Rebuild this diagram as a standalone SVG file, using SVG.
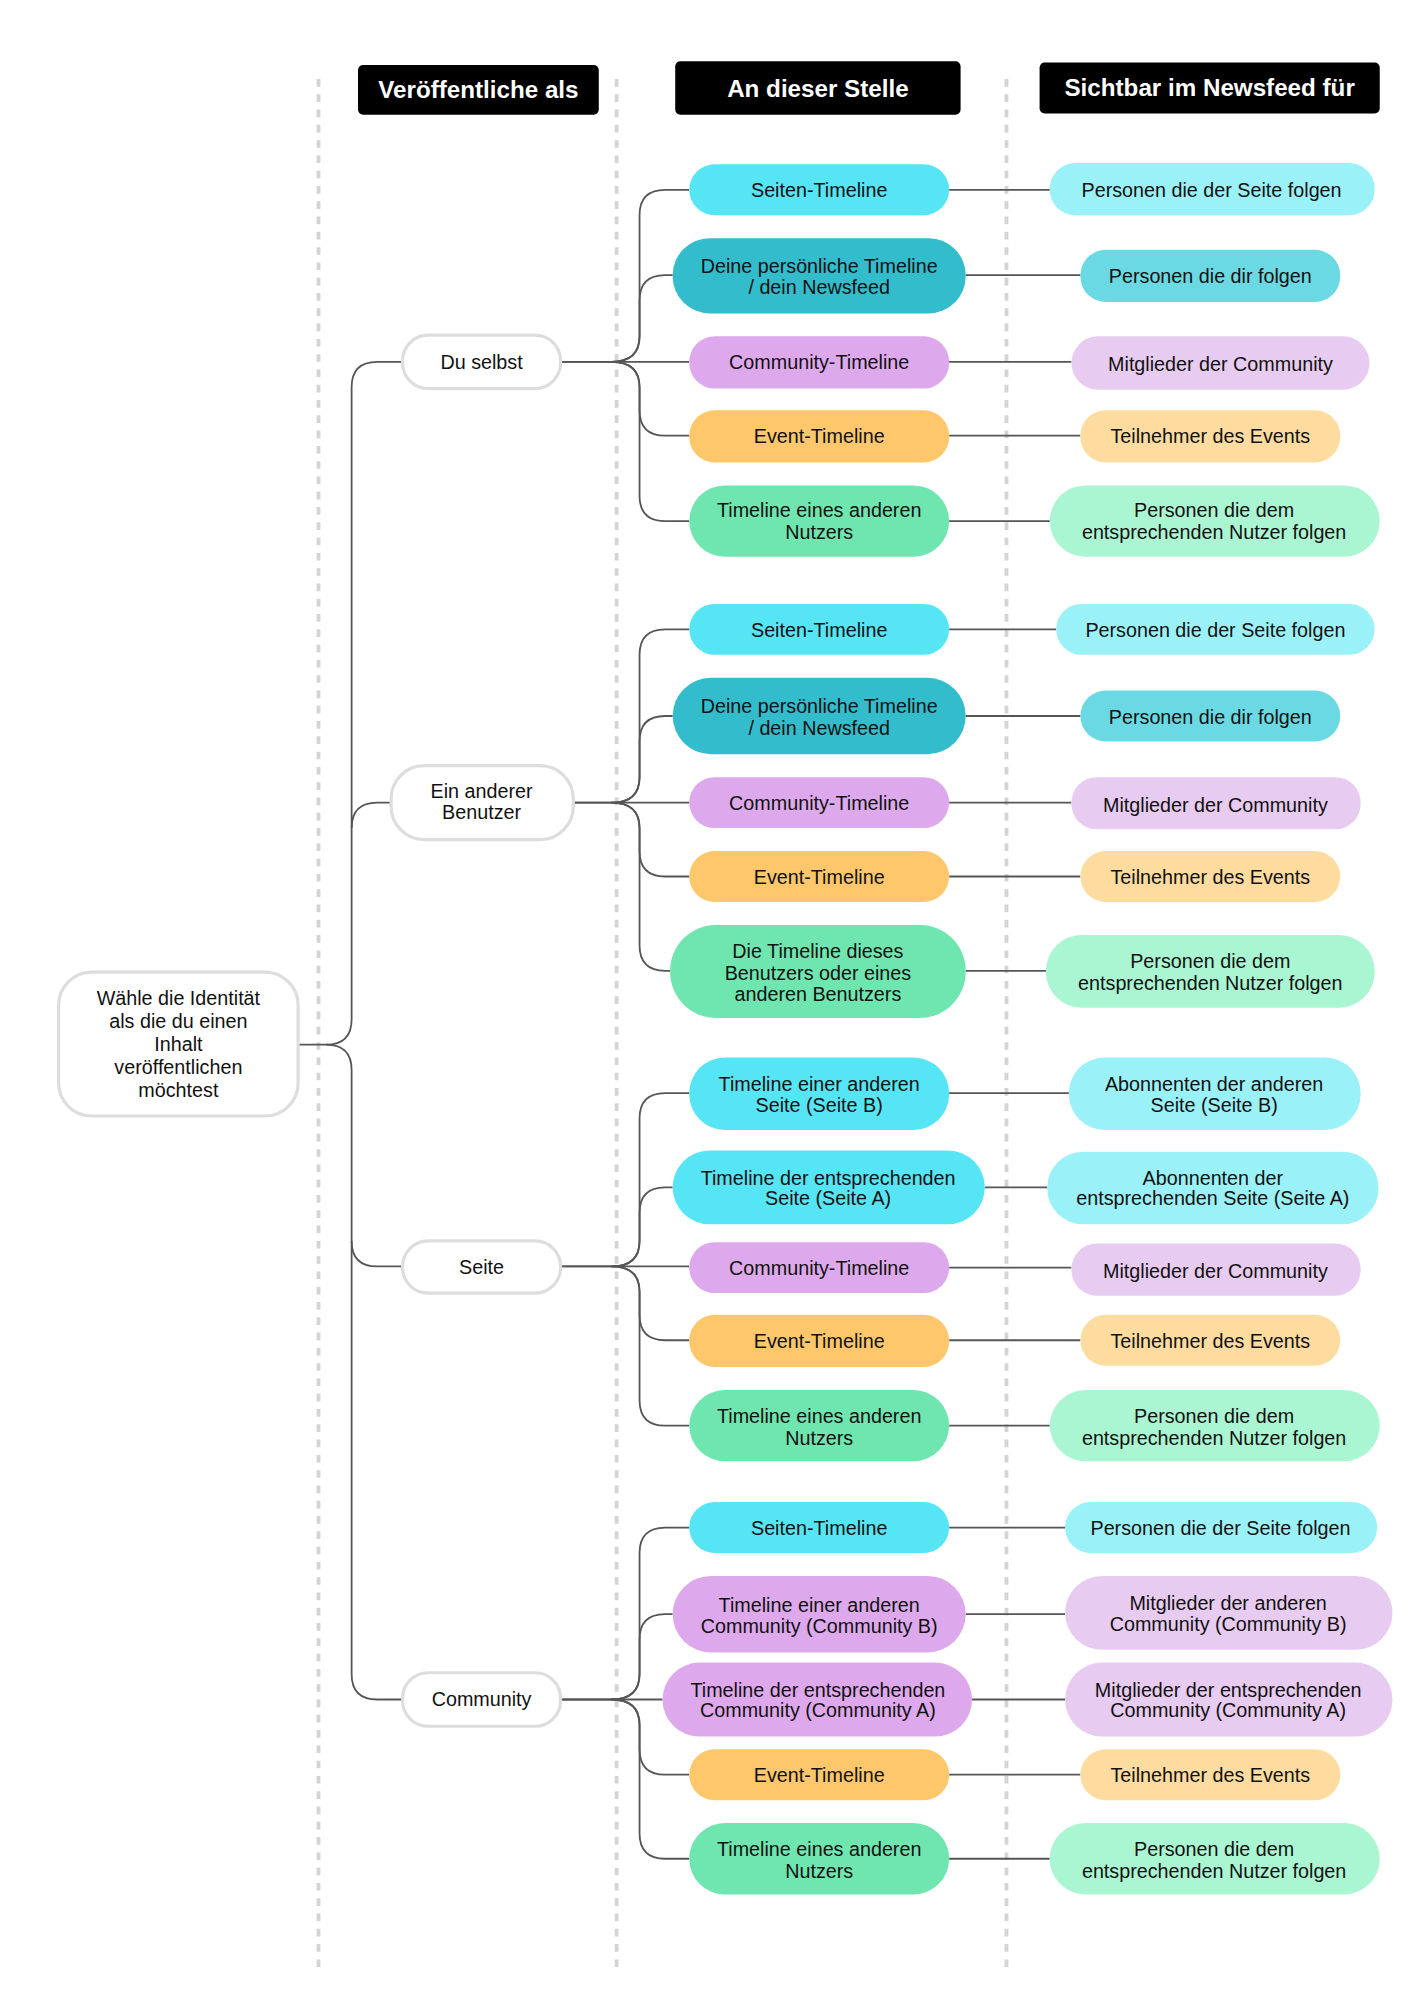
<svg xmlns="http://www.w3.org/2000/svg" width="1414" height="2000" viewBox="0 0 1414 2000">
<style>
text{font-family:"Liberation Sans",Arial,sans-serif;font-size:15.5px;fill:#111;text-anchor:middle}
.h{font-weight:bold;font-size:19px;fill:#fff}
.hd{fill:#000}
.w{fill:#fff;stroke:#ddd;stroke-width:2.5}
.c1{fill:#56e5f4}.c2{fill:#33bccc}.c3{fill:#dea9ec}.c4{fill:#fec76c}.c5{fill:#6fe6b0}
.l1{fill:#9af1f8}.l2{fill:#6ad9e3}.l3{fill:#e8cbf0}.l4{fill:#fedb9f}.l5{fill:#aaf5d2}
.dash{stroke:#d4d4d4;stroke-width:3;stroke-dasharray:6 6;fill:none}
#connectors path{fill:none;stroke:#555;stroke-width:1.4}
</style>
<rect width="1414" height="2000" fill="#fff"/>
<g transform="scale(1.274)">
<g id="guides">
<line class="dash" x1="250" y1="62" x2="250" y2="1545"/>
<line class="dash" x1="484" y1="62" x2="484" y2="1545"/>
<line class="dash" x1="790" y1="62" x2="790" y2="1545"/>
</g>
<g id="headers">
<rect class="hd" x="281" y="51" width="189" height="39" rx="4"/><text class="h" x="375.5" y="77">Veröffentliche als</text>
<rect class="hd" x="530" y="48" width="224" height="42" rx="4"/><text class="h" x="642" y="76">An dieser Stelle</text>
<rect class="hd" x="816" y="49" width="267" height="40" rx="4"/><text class="h" x="949.5" y="75">Sichtbar im Newsfeed für</text>
</g>
<g id="connectors">
<path d="M234 820 H256 Q276 820 276 800 V304 Q276 284 296 284 H316"/>
<path d="M256 820 Q276 820 276 840 V1314 Q276 1334 296 1334 H316"/>
<path d="M276 650 Q276 630 296 630 H307"/>
<path d="M276 974 Q276 994 296 994 H316"/>
<path d="M440 284 H480 Q502 284 502 264 V169 Q502 149 522 149 H541"/>
<path d="M480 284 Q502 284 502 264 V236 Q502 216 522 216 H528"/>
<path d="M440 284 H541"/>
<path d="M480 284 Q502 284 502 304 V322 Q502 342 522 342 H541"/>
<path d="M480 284 Q502 284 502 304 V389 Q502 409 522 409 H541"/>
<path d="M450 630 H480 Q502 630 502 610 V514 Q502 494 522 494 H541"/>
<path d="M480 630 Q502 630 502 610 V582 Q502 562 522 562 H528"/>
<path d="M450 630 H541"/>
<path d="M480 630 Q502 630 502 650 V668 Q502 688 522 688 H541"/>
<path d="M480 630 Q502 630 502 650 V742 Q502 762 522 762 H526"/>
<path d="M440 994 H480 Q502 994 502 974 V878 Q502 858 522 858 H541"/>
<path d="M480 994 Q502 994 502 974 V952 Q502 932 522 932 H528"/>
<path d="M440 994 H541"/>
<path d="M480 994 Q502 994 502 1014 V1032 Q502 1052 522 1052 H541"/>
<path d="M480 994 Q502 994 502 1014 V1099 Q502 1119 522 1119 H541"/>
<path d="M440 1334 H480 Q502 1334 502 1314 V1219 Q502 1199 522 1199 H541"/>
<path d="M480 1334 Q502 1334 502 1314 V1287 Q502 1267 522 1267 H528"/>
<path d="M440 1334 H520"/>
<path d="M480 1334 Q502 1334 502 1354 V1373 Q502 1393 522 1393 H541"/>
<path d="M480 1334 Q502 1334 502 1354 V1439 Q502 1459 522 1459 H541"/>
<path d="M745 149 H824"/><path d="M758 216 H848"/><path d="M745 284 H841"/><path d="M745 342 H848"/><path d="M745 409 H824"/>
<path d="M745 494 H829"/><path d="M758 562 H848"/><path d="M745 630 H841"/><path d="M745 688 H848"/><path d="M758 762 H821"/>
<path d="M745 858 H839"/><path d="M773 932 H822"/><path d="M745 995 H841"/><path d="M745 1052 H848"/><path d="M745 1119 H824"/>
<path d="M745 1199 H836"/><path d="M758 1267 H836"/><path d="M763 1334 H836"/><path d="M745 1393 H848"/><path d="M745 1459 H824"/>
</g>
<g id="root"><rect class="w" x="46" y="763" width="188" height="113" rx="26"/><text x="140" y="789">Wähle die Identität</text><text x="140" y="807">als die du einen</text><text x="140" y="825">Inhalt</text><text x="140" y="843">veröffentlichen</text><text x="140" y="861">möchtest</text></g>
<g id="duselbst"><rect class="w" x="316" y="263" width="124" height="42" rx="20"/><text x="378" y="290">Du selbst</text></g>
<g id="anderer"><rect class="w" x="307" y="601" width="143" height="58" rx="26"/><text x="378" y="626">Ein anderer</text><text x="378" y="643">Benutzer</text></g>
<g id="seite"><rect class="w" x="316" y="974" width="124" height="41" rx="20"/><text x="378" y="1000">Seite</text></g>
<g id="community"><rect class="w" x="316" y="1313" width="124" height="42" rx="20"/><text x="378" y="1339">Community</text></g>

<g id="g1a"><rect class="c1" x="541" y="129" width="204" height="40" rx="20"/><text x="643" y="155">Seiten-Timeline</text></g>
<g id="g1b"><rect class="c2" x="528" y="187" width="230" height="59" rx="29"/><text x="643" y="214">Deine persönliche Timeline</text><text x="643" y="231">/ dein Newsfeed</text></g>
<g id="g1c"><rect class="c3" x="541" y="264" width="204" height="41" rx="20"/><text x="643" y="290">Community-Timeline</text></g>
<g id="g1d"><rect class="c4" x="541" y="322" width="204" height="41" rx="20"/><text x="643" y="348">Event-Timeline</text></g>
<g id="g1e"><rect class="c5" x="541" y="381" width="204" height="56" rx="28"/><text x="643" y="406">Timeline eines anderen</text><text x="643" y="423">Nutzers</text></g>
<g id="g1a3"><rect class="l1" x="824" y="128" width="255" height="41" rx="20"/><text x="951" y="155">Personen die der Seite folgen</text></g>
<g id="g1b3"><rect class="l2" x="848" y="196" width="204" height="41" rx="20"/><text x="950" y="222">Personen die dir folgen</text></g>
<g id="g1c3"><rect class="l3" x="841" y="264" width="234" height="42" rx="21"/><text x="958" y="291">Mitglieder der Community</text></g>
<g id="g1d3"><rect class="l4" x="848" y="322" width="204" height="41" rx="20"/><text x="950" y="348">Teilnehmer des Events</text></g>
<g id="g1e3"><rect class="l5" x="824" y="381" width="259" height="56" rx="28"/><text x="953" y="406">Personen die dem</text><text x="953" y="423">entsprechenden Nutzer folgen</text></g>

<g id="g2a"><rect class="c1" x="541" y="474" width="204" height="40" rx="20"/><text x="643" y="500">Seiten-Timeline</text></g>
<g id="g2b"><rect class="c2" x="528" y="532" width="230" height="60" rx="30"/><text x="643" y="560">Deine persönliche Timeline</text><text x="643" y="577">/ dein Newsfeed</text></g>
<g id="g2c"><rect class="c3" x="541" y="610" width="204" height="40" rx="20"/><text x="643" y="636">Community-Timeline</text></g>
<g id="g2d"><rect class="c4" x="541" y="668" width="204" height="40" rx="20"/><text x="643" y="694">Event-Timeline</text></g>
<g id="g2e"><rect class="c5" x="526" y="726" width="232" height="73" rx="36"/><text x="642" y="752">Die Timeline dieses</text><text x="642" y="769">Benutzers oder eines</text><text x="642" y="786">anderen Benutzers</text></g>
<g id="g2a3"><rect class="l1" x="829" y="474" width="250" height="40" rx="20"/><text x="954" y="500">Personen die der Seite folgen</text></g>
<g id="g2b3"><rect class="l2" x="848" y="542" width="204" height="40" rx="20"/><text x="950" y="568">Personen die dir folgen</text></g>
<g id="g2c3"><rect class="l3" x="841" y="610" width="227" height="41" rx="20"/><text x="954" y="637">Mitglieder der Community</text></g>
<g id="g2d3"><rect class="l4" x="848" y="668" width="204" height="40" rx="20"/><text x="950" y="694">Teilnehmer des Events</text></g>
<g id="g2e3"><rect class="l5" x="821" y="734" width="258" height="57" rx="28"/><text x="950" y="760">Personen die dem</text><text x="950" y="777">entsprechenden Nutzer folgen</text></g>

<g id="g3a"><rect class="c1" x="541" y="830" width="204" height="57" rx="28"/><text x="643" y="856">Timeline einer anderen</text><text x="643" y="873">Seite (Seite B)</text></g>
<g id="g3b"><rect class="c1" x="528" y="903" width="245" height="58" rx="29"/><text x="650" y="930">Timeline der entsprechenden</text><text x="650" y="946">Seite (Seite A)</text></g>
<g id="g3c"><rect class="c3" x="541" y="975" width="204" height="40" rx="20"/><text x="643" y="1001">Community-Timeline</text></g>
<g id="g3d"><rect class="c4" x="541" y="1032" width="204" height="41" rx="20"/><text x="643" y="1058">Event-Timeline</text></g>
<g id="g3e"><rect class="c5" x="541" y="1091" width="204" height="56" rx="28"/><text x="643" y="1117">Timeline eines anderen</text><text x="643" y="1134">Nutzers</text></g>
<g id="g3a3"><rect class="l1" x="839" y="830" width="229" height="57" rx="28"/><text x="953" y="856">Abonnenten der anderen</text><text x="953" y="873">Seite (Seite B)</text></g>
<g id="g3b3"><rect class="l1" x="822" y="904" width="260" height="57" rx="28"/><text x="952" y="930">Abonnenten der</text><text x="952" y="946">entsprechenden Seite (Seite A)</text></g>
<g id="g3c3"><rect class="l3" x="841" y="976" width="227" height="41" rx="20"/><text x="954" y="1003">Mitglieder der Community</text></g>
<g id="g3d3"><rect class="l4" x="848" y="1032" width="204" height="40" rx="20"/><text x="950" y="1058">Teilnehmer des Events</text></g>
<g id="g3e3"><rect class="l5" x="824" y="1091" width="259" height="56" rx="28"/><text x="953" y="1117">Personen die dem</text><text x="953" y="1134">entsprechenden Nutzer folgen</text></g>

<g id="g4a"><rect class="c1" x="541" y="1179" width="204" height="40" rx="20"/><text x="643" y="1205">Seiten-Timeline</text></g>
<g id="g4b"><rect class="c3" x="528" y="1237" width="230" height="60" rx="30"/><text x="643" y="1265">Timeline einer anderen</text><text x="643" y="1282">Community (Community B)</text></g>
<g id="g4c"><rect class="c3" x="520" y="1305" width="243" height="58" rx="29"/><text x="642" y="1332">Timeline der entsprechenden</text><text x="642" y="1348">Community (Community A)</text></g>
<g id="g4d"><rect class="c4" x="541" y="1373" width="204" height="40" rx="20"/><text x="643" y="1399">Event-Timeline</text></g>
<g id="g4e"><rect class="c5" x="541" y="1431" width="204" height="56" rx="28"/><text x="643" y="1457">Timeline eines anderen</text><text x="643" y="1474">Nutzers</text></g>
<g id="g4a3"><rect class="l1" x="836" y="1179" width="245" height="40" rx="20"/><text x="958" y="1205">Personen die der Seite folgen</text></g>
<g id="g4b3"><rect class="l3" x="836" y="1237" width="257" height="58" rx="29"/><text x="964" y="1264">Mitglieder der anderen</text><text x="964" y="1280">Community (Community B)</text></g>
<g id="g4c3"><rect class="l3" x="836" y="1305" width="257" height="58" rx="29"/><text x="964" y="1332">Mitglieder der entsprechenden</text><text x="964" y="1348">Community (Community A)</text></g>
<g id="g4d3"><rect class="l4" x="848" y="1373" width="204" height="40" rx="20"/><text x="950" y="1399">Teilnehmer des Events</text></g>
<g id="g4e3"><rect class="l5" x="824" y="1431" width="259" height="56" rx="28"/><text x="953" y="1457">Personen die dem</text><text x="953" y="1474">entsprechenden Nutzer folgen</text></g>
</g>
</svg>
